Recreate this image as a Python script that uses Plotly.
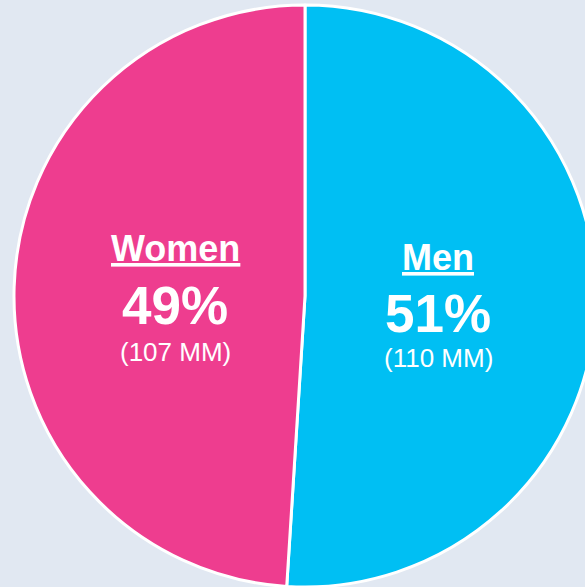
import plotly.graph_objects as go

# data
labels = ["Men", "Women"]
shares = [51, 49]          # percent
millions = [110, 107]      # MM people
colors = ["#00BFF3", "#EE3D8F"]

W, H = 605, 587
bg = "#E1E8F2"

fig = go.Figure(go.Pie(
    labels=labels,
    values=shares,
    sort=False,
    direction="clockwise",
    rotation=0,
    marker=dict(colors=colors, line=dict(color="white", width=3)),
    textinfo="none",
    hoverinfo="label+percent",
    domain=dict(x=[14 / W, 596 / W], y=[0, 1 - 5 / H]),
    showlegend=False,
))

# label blocks (pixel centres of each block)
label_pos = {"Men": (438, 257, 313, 358), "Women": (175, 248, 305, 352)}
font = "Liberation Sans, Arial, sans-serif"
annotations = []
for lab, pct, mm in zip(labels, shares, millions):
    x, y1, y2, y3 = label_pos[lab]
    for txt, yy, size in [(f"<b><u>{lab}</u></b>", y1, 36),
                          (f"<b>{pct}%</b>", y2, 53),
                          (f"({mm} MM)", y3, 26)]:
        annotations.append(dict(
            text=txt, x=x / W, y=1 - yy / H, xref="paper", yref="paper",
            xanchor="center", yanchor="middle", showarrow=False,
            font=dict(family=font, size=size, color="white"),
        ))

fig.update_layout(
    width=W, height=H,
    margin=dict(l=0, r=0, t=0, b=0),
    paper_bgcolor=bg,
    plot_bgcolor=bg,
    annotations=annotations,
)

# page is narrower than the figure: drop body margin and scrollbars
post = ("document.body.style.margin='0';"
        "document.body.style.overflow='hidden';"
        "document.documentElement.style.overflow='hidden';"
        "document.body.style.background='" + bg + "';")
fig.write_html("out.html", post_script=post, config={"displayModeBar": False})
